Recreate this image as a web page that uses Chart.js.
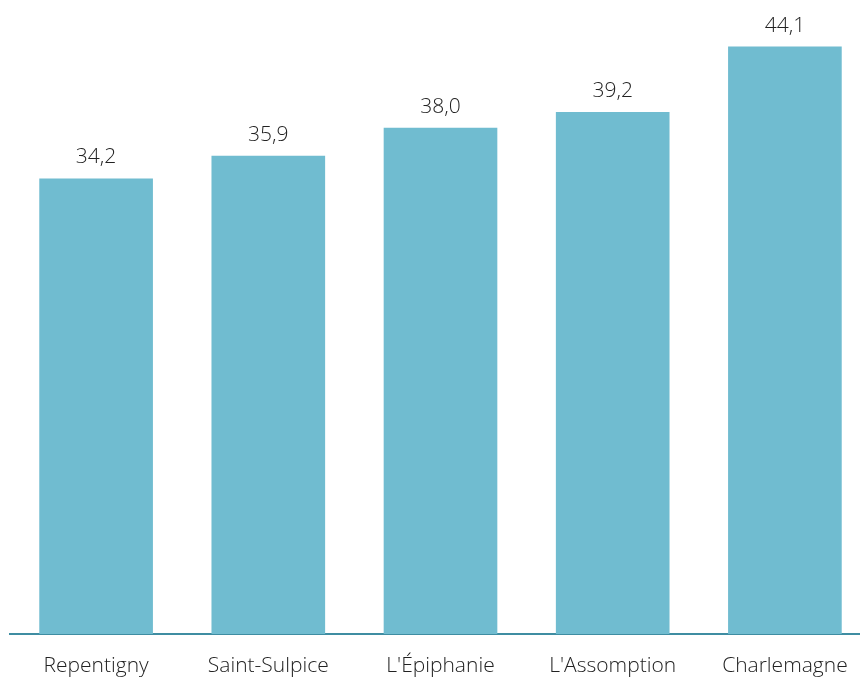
<!DOCTYPE html>
<html>
<head>
<meta charset="utf-8">
<script src="https://cdn.jsdelivr.net/npm/chart.js@4/dist/chart.umd.min.js"></script>
<style>
  html, body { margin: 0; padding: 0; background: #fff; overflow: hidden; }
  #wrap { width: 860px; height: 677px; overflow: hidden; }
  canvas { display: block; }
</style>
</head>
<body>
<div id="wrap"><canvas id="c" width="871" height="677"></canvas></div>
<script>
const categories = ["Repentigny", "Saint-Sulpice", "L'Épiphanie", "L'Assomption", "Charlemagne"];
const values = [34.2, 35.9, 38.0, 39.2, 44.1];

const fmt = v => v.toFixed(1).replace('.', ',');
const FONT_FAMILY = '"Open Sans", "Noto Sans", sans-serif';

// Writes each bar's value just above it
const valueLabels = {
  id: 'valueLabels',
  afterDatasetsDraw(chart) {
    const ctx = chart.ctx;
    const meta = chart.getDatasetMeta(0);
    ctx.save();
    ctx.font = '300 21px ' + FONT_FAMILY;
    ctx.fillStyle = '#222222';
    ctx.textAlign = 'center';
    ctx.textBaseline = 'alphabetic';
    meta.data.forEach((bar, i) => {
      ctx.fillText(fmt(values[i]), bar.x, bar.y - 15);
    });
    ctx.restore();
  }
};

new Chart(document.getElementById('c'), {
  type: 'bar',
  data: {
    labels: categories,
    datasets: [{
      data: values,
      backgroundColor: '#70BCD0',
      borderWidth: 0,
      barPercentage: 0.66,
      categoryPercentage: 1.0
    }]
  },
  options: {
    responsive: false,
    animation: false,
    layout: { padding: { left: 10, right: 0, top: 0, bottom: 0 } },
    plugins: { legend: { display: false }, tooltip: { enabled: false } },
    scales: {
      x: {
        grid: { display: false, drawTicks: false },
        border: { display: true, color: '#3F8DA2', width: 2 },
        afterFit(scale) { scale.height = 43; },
        ticks: {
          color: '#222222',
          font: { family: FONT_FAMILY, size: 21, weight: '300' },
          padding: 19,
          maxRotation: 0
        }
      },
      y: {
        display: false,
        min: 0,
        max: 47.6
      }
    }
  },
  plugins: [valueLabels]
});
</script>
</body>
</html>
